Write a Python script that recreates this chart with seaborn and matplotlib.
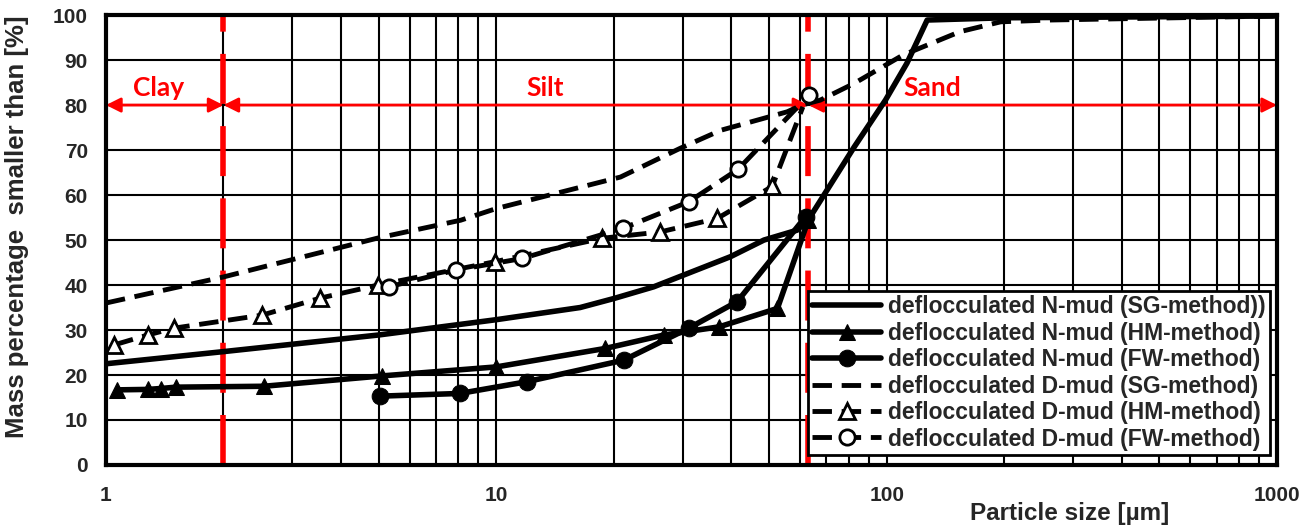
import numpy as np
import pandas as pd
import matplotlib
matplotlib.use("Agg")
import matplotlib.pyplot as plt
import seaborn as sns

# particle size [um] and mass percentage smaller than [%]
n_sg_x = [1, 2, 5, 10, 16.4, 20, 25.3, 39.8, 48.5, 59, 63, 82.6, 99.3, 112.7, 127, 200, 1000]
n_sg_y = [22.5, 25.2, 28.9, 32.3, 35.0, 37.0, 39.6, 46.3, 50.0, 52.2, 54.5, 70.7, 81.1, 89.3, 98.9, 99.4, 99.8]

n_hm_x = [1.07, 1.28, 1.38, 1.51, 2.54, 5.09, 10.0, 19.0, 26.9, 37.2, 52.5, 63]
n_hm_y = [16.7, 16.8, 17.0, 17.3, 17.5, 19.8, 21.8, 25.9, 28.9, 30.7, 34.8, 54.5]

n_fw_x = [5.04, 8.06, 11.96, 21.2, 31.1, 41.4, 62]
n_fw_y = [15.3, 15.9, 18.5, 23.3, 30.4, 36.3, 55.2]

d_sg_x = [1, 2, 5, 8.1, 10, 20.8, 29.6, 37.6, 55.6, 60.7, 67.6, 82.5, 110, 154, 196, 262, 1000]
d_sg_y = [36.0, 41.8, 50.5, 54.4, 57.0, 64.0, 70.4, 74.4, 78.5, 80.0, 81.1, 84.8, 91.1, 96.3, 98.5, 98.9, 99.8]

d_hm_x = [1.05, 1.28, 1.49, 2.51, 3.54, 4.98, 9.94, 18.7, 26.3, 36.8, 50.9, 61]
d_hm_y = [26.7, 28.9, 30.4, 33.3, 37.1, 40.0, 45.2, 50.4, 51.8, 54.8, 61.9, 79.6]

d_fw_x = [5.3, 7.86, 11.65, 21.1, 31.1, 41.6, 63.2]
d_fw_y = [39.6, 43.3, 45.9, 52.6, 58.5, 65.7, 82.2]

labels = ["deflocculated N-mud (SG-method))",
          "deflocculated N-mud (HM-method)",
          "deflocculated N-mud (FW-method)",
          "deflocculated D-mud (SG-method)",
          "deflocculated D-mud (HM-method)",
          "deflocculated D-mud (FW-method)"]

clay_silt = 2
silt_sand = 63

sns.set_theme(style="white")
plt.rcParams['font.family'] = ['Liberation Sans', 'DejaVu Sans']

fig = plt.figure(figsize=(13.15, 5.29), dpi=100)
ax = fig.add_axes([0.0806, 0.121, 0.8905, 0.8505])

dash = (0, (4.0, 2.0))
series = [
    (n_sg_x, n_sg_y, dict(linestyle='-', lw=4)),
    (n_hm_x, n_hm_y, dict(linestyle='-', lw=4, marker='^', markersize=11,
                          markerfacecolor='black', markeredgecolor='black')),
    (n_fw_x, n_fw_y, dict(linestyle='-', lw=4, marker='o', markersize=12,
                          markerfacecolor='black', markeredgecolor='black')),
    (d_sg_x, d_sg_y, dict(linestyle=dash, lw=3.5)),
    (d_hm_x, d_hm_y, dict(linestyle=dash, lw=3.5, marker='^', markersize=11,
                          markerfacecolor='white', markeredgecolor='black', markeredgewidth=2,
                          markevery=list(range(len(d_hm_x) - 1)))),
    (d_fw_x, d_fw_y, dict(linestyle=dash, lw=3.5, marker='o', markersize=11,
                          markerfacecolor='white', markeredgecolor='black', markeredgewidth=2)),
]
for (xs, ys, kw), lab in zip(series, labels):
    df = pd.DataFrame({"size": xs, "pct": ys})
    sns.lineplot(data=df, x="size", y="pct", ax=ax, color='black', sort=False,
                 label=lab, zorder=4, **kw)

ax.set_xscale('log')
ax.set_xlim(1, 1000)
ax.set_ylim(0, 100)
ax.set_yticks(np.arange(0, 101, 10))

# grid
ax.grid(True, which='major', axis='both', color='black', lw=1.5, zorder=0)
ax.grid(True, which='minor', axis='x', color='black', lw=1.5, zorder=0)
ax.set_axisbelow(True)
for s in ax.spines.values():
    s.set_linewidth(3)
    s.set_color('black')
    s.set_zorder(6)
ax.tick_params(which='both', length=0, labelsize=15)
ax.tick_params(axis='y', pad=13)
ax.tick_params(axis='x', pad=15)
ax.set_xticks([1, 10, 100, 1000])
ax.set_xticklabels(['1', '10', '100', '1000'])
for t in ax.get_xticklabels() + ax.get_yticklabels():
    t.set_fontweight('bold')

# soil fraction boundaries
for xb in (clay_silt, silt_sand):
    ax.axvline(xb, color='red', lw=4, linestyle=(0, (9, 4)), zorder=3)

arrow = dict(arrowstyle='<|-|>', color='red', lw=2, mutation_scale=22, shrinkA=0, shrinkB=0)
for x0, x1 in ((1, clay_silt), (clay_silt, silt_sand), (silt_sand, 1000)):
    ax.annotate('', xy=(x1, 80), xytext=(x0, 80), arrowprops=arrow, zorder=3,
                annotation_clip=False)
zone_font = dict(color='red', fontsize=19, fontweight='bold', family=['Lato', 'DejaVu Sans'],
                 ha='center', va='center', zorder=5)
ax.text(1.36, 83.8, 'Clay', **zone_font)
ax.text(13.3, 83.8, 'Silt', **zone_font)
ax.text(131, 83.8, 'Sand', **zone_font)

ax.set_ylabel('Mass percentage  smaller than [%]', fontsize=18.5, fontweight='bold')
ax.yaxis.set_label_coords(-0.066, 0.53)
ax.set_xlabel('Particle size [µm]', fontsize=17.5, fontweight='bold')
ax.xaxis.set_label_coords(0.823, -0.082)

leg = ax.legend(loc='lower right', bbox_to_anchor=(0.994, 0.022), fontsize=16.5,
                frameon=True, fancybox=False, framealpha=1, edgecolor='black',
                handlelength=3.0, handletextpad=0.3, borderpad=0.2, labelspacing=0.15,
                borderaxespad=0)
leg.get_frame().set_linewidth(2)
leg.set_zorder(7)
for t in leg.get_texts():
    t.set_fontweight('bold')

fig.savefig('out.png', dpi=100)
